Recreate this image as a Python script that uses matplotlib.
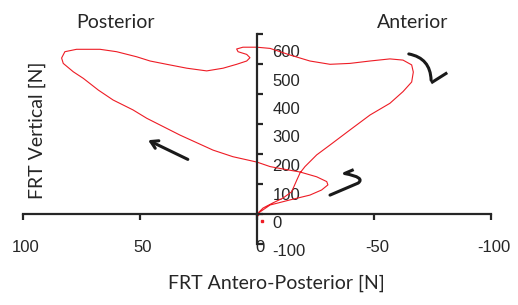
"""FRT antero-posterior vs vertical force loop."""
import matplotlib
matplotlib.use("Agg")
import matplotlib.pyplot as plt
import matplotlib.transforms as mtransforms
from matplotlib.path import Path
from matplotlib.patches import FancyArrowPatch

# force trace [N]
ap_force = [0, -5.6, -14.1, -22.6, -27.6, -30.3, -29.8, -25.5, -18.4, -11.1,
            -5.6, 0, 10.3, 18.8, 32.9, 47.1, 53.0, 61.5, 67.8, 74.2,
            78.5, 82.8, 83.5, 82.1, 77.1, 67.1, 60.0, 51.4, 45.7, 38.6,
            30.0, 21.5, 14.5, 8.7, 4.4, 3.0, 4.4, 8.1, 8.7, 6.0,
            0.1, -5.6, -14.1, -22.6, -31.2, -39.7, -48.3, -56.8, -62.4, -66.1,
            -66.8, -66.1, -62.4, -56.8, -48.3, -39.7, -31.2, -25.5, -20.5, -18.4,
            -17.0, -14.8, -11.1, -6.8, -2.6, 0]
vert_force = [0, 30, 47, 63, 80, 97, 108, 124, 140, 150,
              158, 173, 191, 213, 263, 319, 347, 380, 413, 452,
              474, 502, 520, 541, 549, 549, 541, 524, 510, 499,
              486, 477, 486, 499, 510, 521, 532, 541, 550, 556,
              556, 552, 530, 510, 499, 502, 510, 517, 513, 497,
              473, 440, 408, 369, 330, 280, 230, 197, 158, 137,
              113, 74, 53, 37, 20, 0]
stray_ap = [0, -2]
stray_vert = [0, -23]

x_ticks = [100, 50, 0, -50, -100]
y_ticks = [-100, 0, 100, 200, 300, 400, 500, 600]

plt.rcParams["font.family"] = ["Liberation Sans", "DejaVu Sans"]

W, H = 518, 305
fig = plt.figure(figsize=(W / 100, H / 100), dpi=100)
ax = fig.add_axes([23 / W, 1 - 244 / H, 468 / W, 210 / H])

ax.plot(ap_force, vert_force, color="#ee1c25", lw=0.8)
ax.plot(stray_ap, stray_vert, ls="none", marker="s", ms=1.6, color="#ee1c25")

ax.set_xlim(100, -100)
ax.set_ylim(-100, 600)
ax.set_xticks(x_ticks)
ax.set_yticks(y_ticks)
ax.set_xticklabels([str(v) for v in x_ticks])
ax.set_yticklabels([str(v) for v in y_ticks])

for s in ["top", "left"]:
    ax.spines[s].set_visible(False)
ax.spines["bottom"].set_position(("data", 0))
ax.spines["right"].set_position(("data", 0))
for s in ["bottom", "right"]:
    ax.spines[s].set_color("#262626")
    ax.spines[s].set_linewidth(1.6)
ax.yaxis.set_ticks_position("right")
ax.xaxis.set_ticks_position("bottom")
ax.tick_params(axis="both", direction="out", length=4, width=1.6, color="#262626",
               labelsize=12, labelcolor="#262626")
ax.tick_params(axis="x", pad=15)
ax.tick_params(axis="y", pad=7)

# excel-style drift of the value labels
for v, lab in zip(y_ticks, ax.get_yticklabels()):
    off = mtransforms.ScaledTranslation(0, -(8 + 1.5 * v / 100) / 100, fig.dpi_scale_trans)
    lab.set_transform(lab.get_transform() + off)
off = mtransforms.ScaledTranslation(3 / 100, 0, fig.dpi_scale_trans)
for lab in ax.get_xticklabels():
    lab.set_transform(lab.get_transform() + off)

# hand-drawn direction arrows
ink = dict(color="#1a1a1a", lw=2.2)
ax.annotate("", xy=(47.6, 250), xytext=(28.5, 178),
            arrowprops=dict(arrowstyle="->,head_length=0.5,head_width=0.3", **ink))
ax.annotate("", xy=(-74.4, 437), xytext=(-63.7, 535),
            arrowprops=dict(arrowstyle="-", connectionstyle="arc3,rad=-0.45", **ink))
ax.plot([-74.4, -81.3], [437, 471], **ink, solid_capstyle="butt")
hook = Path([(-31.2, 63), (-43.2, 103), (-46.5, 122), (-37.4, 135)],
            [Path.MOVETO, Path.LINETO, Path.CURVE3, Path.CURVE3])
ax.add_patch(FancyArrowPatch(path=hook, arrowstyle="-", **ink))
ax.plot([-37.4, -41.3], [135, 148], **ink, solid_capstyle="butt")

lab_font = dict(family="Lato", fontsize=14, color="#262626")
fig.text(116 / W, 1 - 22 / H, "Posterior", ha="center", va="center", **lab_font)
fig.text(413 / W, 1 - 22 / H, "Anterior", ha="center", va="center", **lab_font)
fig.text(276 / W, 1 - 283 / H, "FRT Antero-Posterior [N]", ha="center", va="center", **lab_font)
fig.text(37 / W, 1 - 130 / H, "FRT Vertical [N]", ha="center", va="center",
         rotation=90, **lab_font)

fig.savefig("out.png", dpi=100)
